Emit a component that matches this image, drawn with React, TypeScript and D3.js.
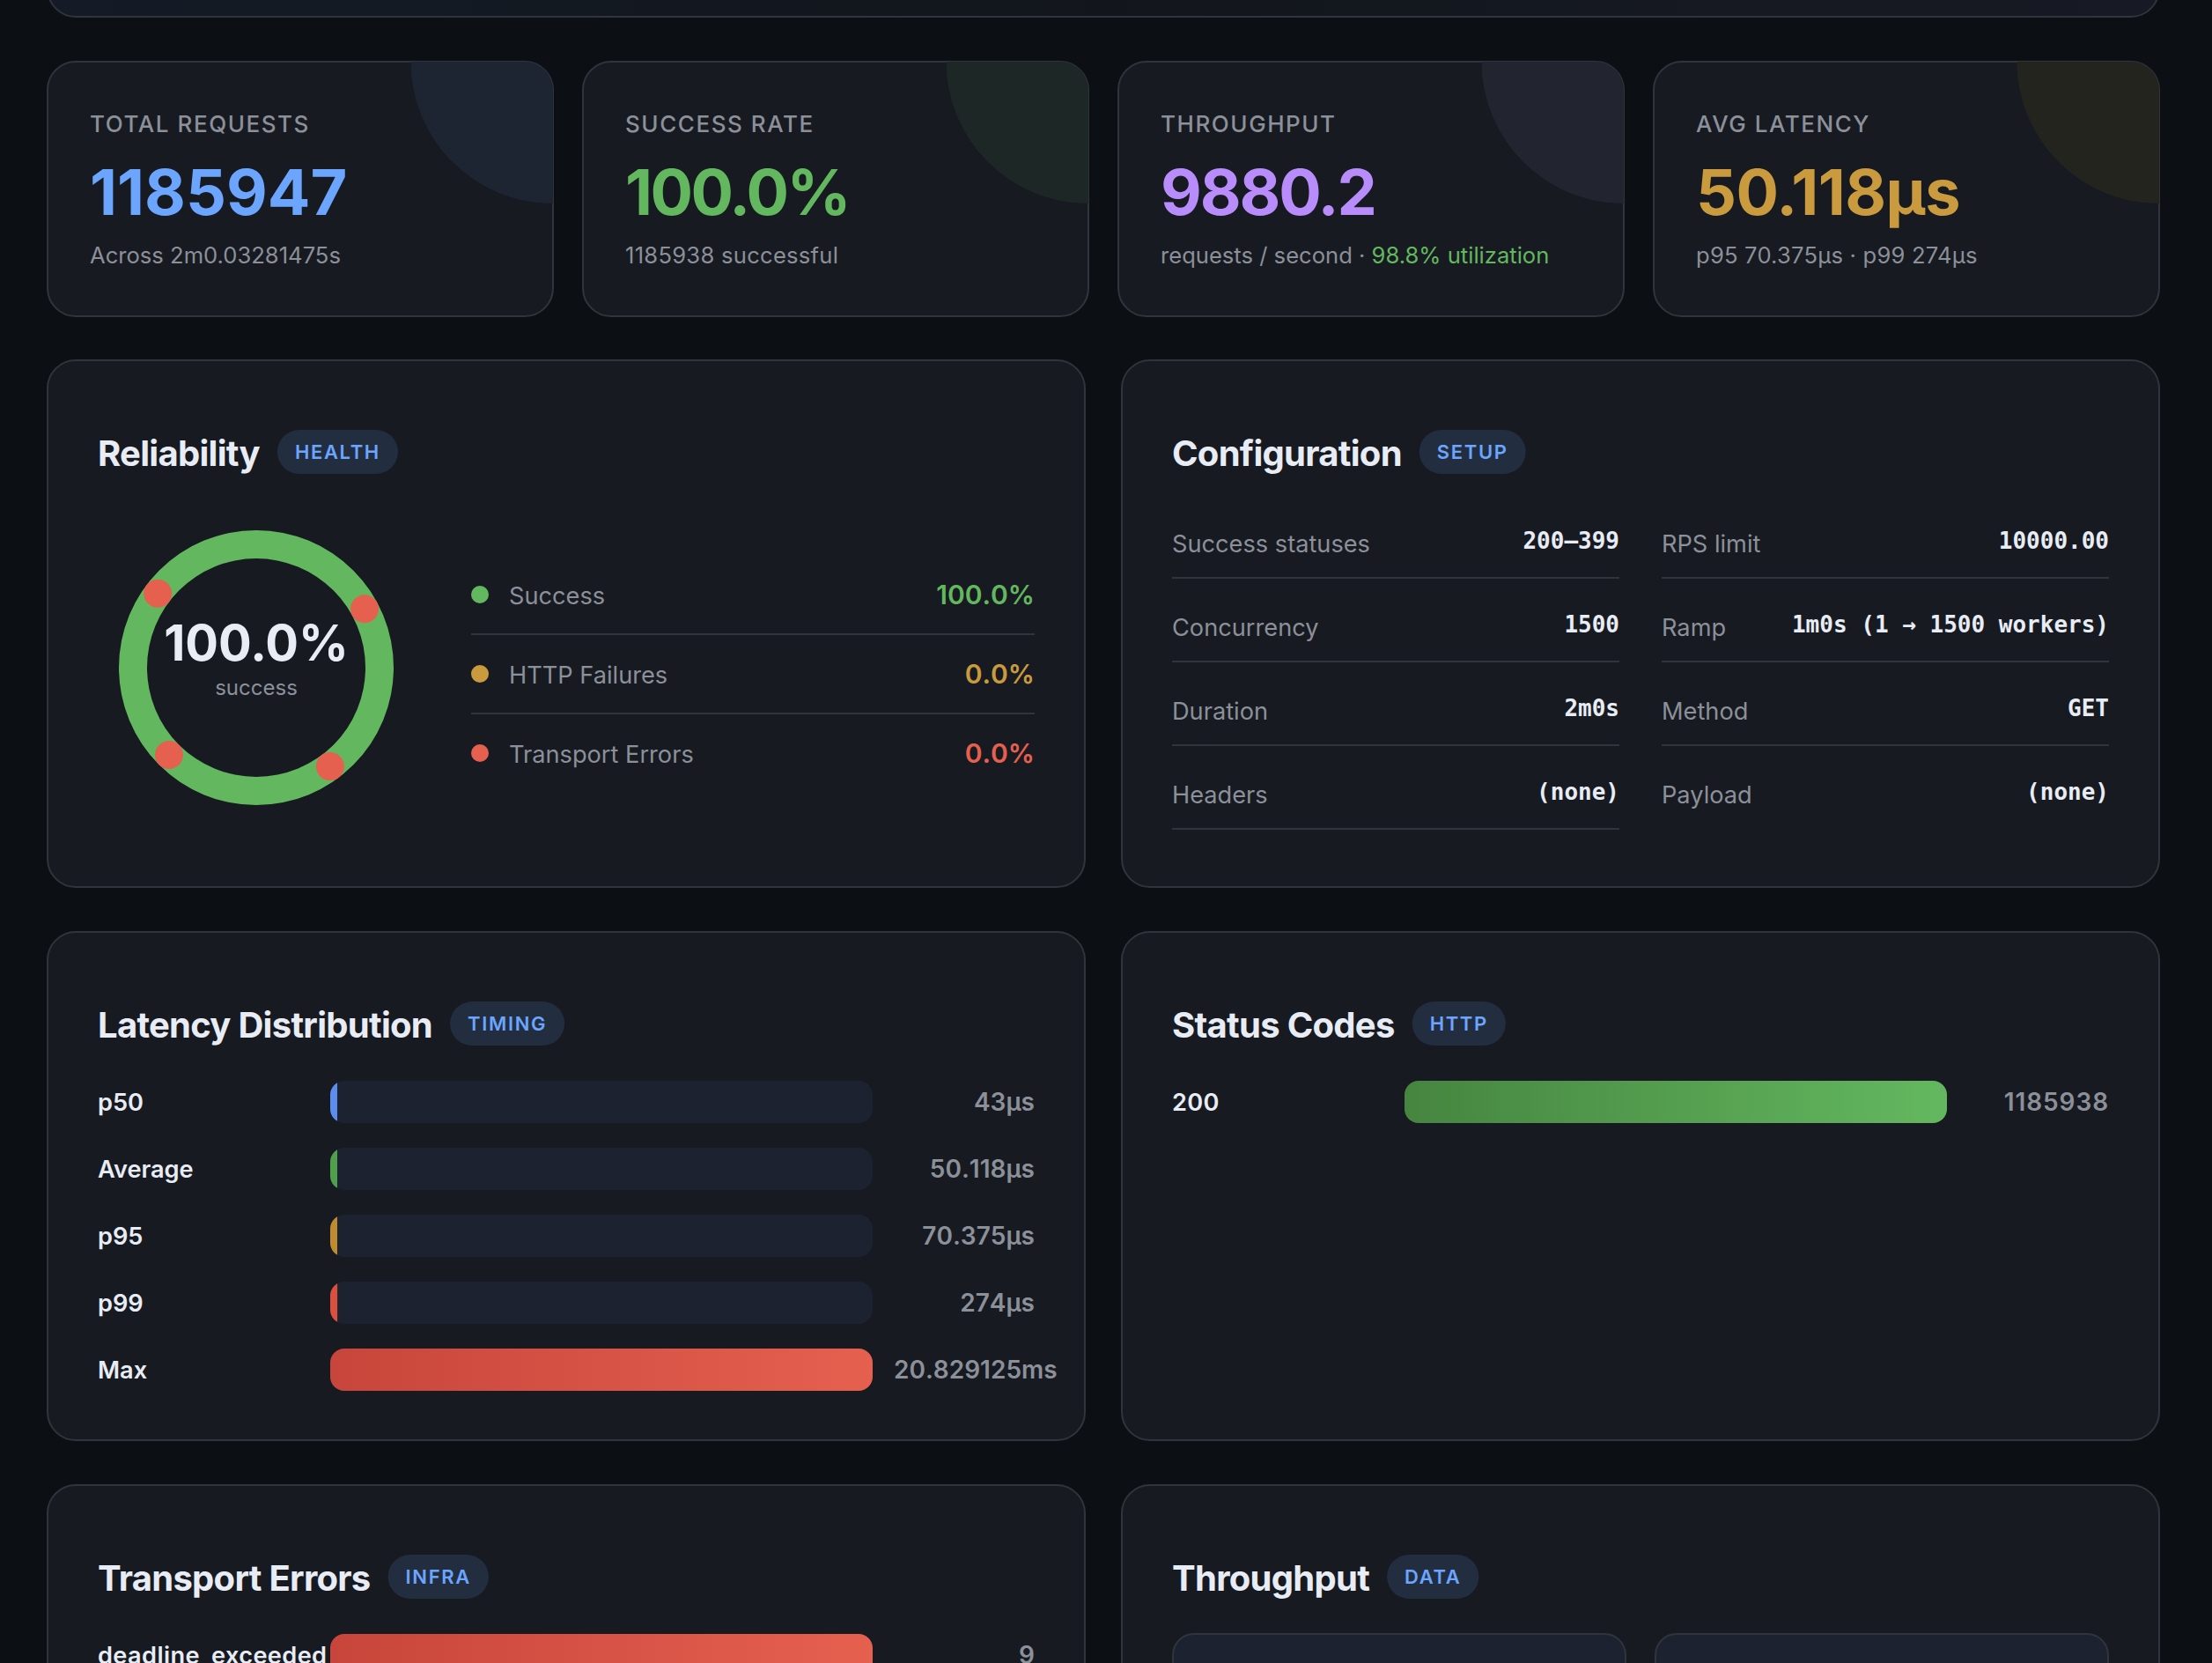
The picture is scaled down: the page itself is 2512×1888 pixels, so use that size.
import { useEffect, useRef } from "react";
import * as d3 from "d3";

const statLabels = ["TOTAL REQUESTS", "SUCCESS RATE", "THROUGHPUT", "AVG LATENCY"];
const statValues = ["1185947", "100.0%", "9880.2", "50.118µs"];
const statSubs = ["Across 2m0.03281475s", "1185938 successful", "requests / second · ", "p95 70.375µs · p99 274µs"];
const statColors = ["#6ba5fd", "#63b85f", "#b88cfb", "#c99a3e"];
const statTints = ["#1e2532", "#1c2726", "#22242f", "#24241f"];
// digit widths differ a little from the installed Inter, so tracking is set per card
const statValueTracking = [0, -0.036, -0.029, -0.008];
const statSubTracking = [0, 0.01, 0, 0.008];

const reliabilityLabels = ["Success", "HTTP Failures", "Transport Errors"];
const reliabilityValues = [100, 0, 0];
const reliabilityColors = ["#63b85f", "#c99a3e", "#e5604f"];
// the zero-width slices show up as round dots on the ring
const markerAngles = [61.5, 143.2, 225, 307];

const configLeftLabels = ["Success statuses", "Concurrency", "Duration", "Headers"];
const configLeftValues = ["200–399", "1500", "2m0s", "(none)"];
const configRightLabels = ["RPS limit", "Ramp", "Method", "Payload"];
const configRightValues = ["10000.00", "1m0s (1 → 1500 workers)", "GET", "(none)"];

const latencyLabels = ["p50", "Average", "p95", "p99", "Max"];
const latencyMicros = [43, 50.118, 70.375, 274, 20829.125];
const latencyTexts = ["43µs", "50.118µs", "70.375µs", "274µs", "20.829125ms"];
const latencyColors = ["#5b8def", "#4fa04b", "#c08a2e", "#d9503f", "url(#redBar)"];

const statusCodes = ["200"];
const statusCounts = [1185938];

const errorNames = ["deadline_exceeded"];
const errorCounts = [9];

const W = 2512;
const H = 1888;
const SANS = "Inter, 'Noto Sans', sans-serif";
const MONO = "'DejaVu Sans Mono', monospace";
const BG = "#0c0f13";
const CARD = "#171a21";
const LINE = "#30343c";
const MUTED = "#8b9099";
const TEXT = "#e8ecf4";
const BLUE = "#6ba5fd";

type Sel = d3.Selection<any, any, any, any>;

function label(
  g: Sel,
  x: number,
  y: number,
  str: string,
  size: number,
  weight: number,
  fill: string,
  anchor = "start",
  spacing = 0,
  family = SANS
) {
  return g
    .append("text")
    .attr("x", x)
    .attr("y", y)
    .attr("font-family", family)
    .attr("font-size", size)
    .attr("font-weight", weight)
    .attr("fill", fill)
    .attr("text-anchor", anchor)
    .style("letter-spacing", `${spacing}em`)
    .text(str);
}

function box(g: Sel, x: number, y: number, w: number, h: number, r = 32, fill = CARD) {
  return g
    .append("rect")
    .attr("x", x + 1)
    .attr("y", y + 1)
    .attr("width", w - 2)
    .attr("height", h - 2)
    .attr("rx", r)
    .attr("fill", fill)
    .attr("stroke", LINE)
    .attr("stroke-width", 2);
}

function panel(g: Sel, x: number, y: number, w: number, h: number, title: string, tag: string) {
  box(g, x, y, w, h);
  const t = label(g, x + 58, y + 120.5, title, 40, 700, TEXT, "start", -0.018);
  const tx = x + 58 + (t.node() as SVGTextElement).getComputedTextLength() + 20;
  const pill = g.append("rect").attr("x", tx).attr("y", y + 80).attr("height", 50).attr("rx", 25).attr("fill", "#222e40");
  const b = label(g, tx + 20, y + 113, tag, 22, 600, BLUE, "start", 0.075);
  pill.attr("width", (b.node() as SVGTextElement).getComputedTextLength() + 40);
}

function barRow(
  g: Sel,
  id: string,
  y: number,
  left: number,
  right: number,
  name: string,
  value: number,
  x: d3.ScaleLinear<number, number>,
  fill: string,
  text: string,
  nameTracking = 0,
  valueTracking = 0
) {
  const track = x.range()[1];
  const barX = left + 264;
  g.append("clipPath")
    .attr("id", id)
    .append("rect")
    .attr("x", barX)
    .attr("y", y)
    .attr("width", track)
    .attr("height", 48)
    .attr("rx", 16);
  g.append("rect").attr("x", barX).attr("y", y).attr("width", track).attr("height", 48).attr("rx", 16).attr("fill", "#1c2230");
  g.append("rect")
    .attr("clip-path", `url(#${id})`)
    .attr("x", barX)
    .attr("y", y)
    .attr("width", Math.max(x(value), 8))
    .attr("height", 48)
    .attr("fill", fill);
  label(g, left, y + 34, name, 27.2, 600, TEXT, "start", nameTracking);
  const v = label(g, right, y + 34, text, 28, 600, MUTED, "start", valueTracking).style("font-kerning", "none");
  // right aligned in its column, long values run over to the right
  const w = (v.node() as SVGTextElement).getComputedTextLength();
  v.attr("x", Math.max(right - 160, right - w));
}

export default function App() {
  const svgRef = useRef<SVGSVGElement>(null);

  useEffect(() => {
    document.body.style.margin = "0";
    document.body.style.background = BG;
    const svg = d3.select(svgRef.current);
    svg.selectAll("*").remove();

    const defs = svg.append("defs");
    const gradient = (id: string, stops: string[]) => {
      const g = defs.append("linearGradient").attr("id", id);
      stops.forEach((c, i) => g.append("stop").attr("offset", i / (stops.length - 1)).attr("stop-color", c));
    };
    gradient("redBar", ["#c8453b", "#e5604f"]);
    gradient("greenBar", ["#468540", "#63b85f"]);
    gradient("hero", ["#141b26", "#12161c", "#171a24"]);

    svg.append("rect").attr("width", W).attr("height", H).attr("fill", BG);

    // hero panel, only its bottom edge is in view
    box(svg, 53, -200, 2400, 220, 32, "url(#hero)");

    // stat cards
    const cardX = d3.scalePoint<number>().domain(d3.range(4)).range([53, 1877]);
    statLabels.forEach((name, i) => {
      const x = cardX(i) as number;
      const g = svg.append("g");
      defs.append("clipPath")
        .attr("id", `card${i}`)
        .append("rect")
        .attr("x", x + 1)
        .attr("y", 70)
        .attr("width", 574)
        .attr("height", 290)
        .attr("rx", 32);
      box(g, x, 69, 576, 291);
      g.append("circle")
        .attr("clip-path", `url(#card${i})`)
        .attr("cx", x + 574.5)
        .attr("cy", 70)
        .attr("r", 161)
        .attr("fill", statTints[i]);
      label(g, x + 49, 150, name, 26, 500, MUTED, "start", 0.06);
      label(g, x + 49, 244, statValues[i], 72, 700, statColors[i], "start", statValueTracking[i]);
      const sub = label(g, x + 49, 299, statSubs[i], 25.6, 400, MUTED, "start", statSubTracking[i]);
      if (i === 2) sub.append("tspan").attr("fill", "#63b85f").text("98.8% utilization");
    });

    // reliability
    const rel = svg.append("g");
    panel(rel, 53, 408, 1180, 600, "Reliability", "HEALTH");
    const ring = rel.append("g").attr("transform", "translate(291,758)");
    const pie = d3.pie<number>().sort(null)(reliabilityValues);
    const arc = d3.arc<d3.PieArcDatum<number>>().innerRadius(124).outerRadius(156);
    ring.selectAll("path")
      .data(pie.filter((d) => d.value > 0))
      .join("path")
      .attr("d", arc)
      .attr("fill", (d) => reliabilityColors[d.index]);
    ring.selectAll("circle")
      .data(markerAngles)
      .join("circle")
      .attr("cx", (d) => d3.pointRadial((d * Math.PI) / 180, 140)[0])
      .attr("cy", (d) => d3.pointRadial((d * Math.PI) / 180, 140)[1])
      .attr("r", 16)
      .attr("fill", "#e5604f");
    label(rel, 291, 750, "100.0%", 56, 700, TEXT, "middle");
    label(rel, 291, 789, "success", 24, 400, MUTED, "middle");

    const legendY = d3.scalePoint<number>().domain(d3.range(3)).range([675, 855]);
    reliabilityLabels.forEach((name, i) => {
      const y = legendY(i) as number;
      rel.append("circle").attr("cx", 545).attr("cy", y).attr("r", 10).attr("fill", reliabilityColors[i]);
      label(rel, 578, y + 11, name, 27.2, 400, MUTED);
      label(rel, 1175, y + 11, `${reliabilityValues[i].toFixed(1)}%`, 30, 600, reliabilityColors[i], "end").style("font-kerning", "none");
      if (i < 2) rel.append("rect").attr("x", 535).attr("y", y + 44).attr("width", 640).attr("height", 2).attr("fill", LINE);
    });

    // configuration
    const cfg = svg.append("g");
    panel(cfg, 1273, 408, 1180, 600, "Configuration", "SETUP");
    const rowY = d3.scalePoint<number>().domain(d3.range(4)).range([655, 940]);
    const column = (x: number, names: string[], values: string[], lastLine: boolean) => {
      names.forEach((name, i) => {
        const y = rowY(i) as number;
        label(cfg, x, y - 28, name, 27.2, 400, MUTED);
        label(cfg, x + 508, y - 32, values[i], 26, 700, TEXT, "end", 0, MONO);
        if (i < 3 || lastLine) cfg.append("rect").attr("x", x).attr("y", y).attr("width", 508).attr("height", 2).attr("fill", LINE);
      });
    };
    column(1331, configLeftLabels, configLeftValues, true);
    column(1887, configRightLabels, configRightValues, false);

    // latency
    const lat = svg.append("g");
    panel(lat, 53, 1057, 1180, 579, "Latency Distribution", "TIMING");
    const latencyX = d3.scaleLinear().domain([0, d3.max(latencyMicros) as number]).range([0, 616]);
    const latencyY = d3.scalePoint<number>().domain(d3.range(5)).range([1227, 1531]);
    latencyLabels.forEach((name, i) => {
      barRow(lat, `lat${i}`, latencyY(i) as number, 111, 1175, name, latencyMicros[i], latencyX, latencyColors[i], latencyTexts[i]);
    });

    // status codes
    const st = svg.append("g");
    panel(st, 1273, 1057, 1180, 579, "Status Codes", "HTTP");
    const statusX = d3.scaleLinear().domain([0, d3.max(statusCounts) as number]).range([0, 616]);
    statusCodes.forEach((code, i) => {
      barRow(st, `st${i}`, 1227 + i * 76, 1331, 2395, code, statusCounts[i], statusX, "url(#greenBar)", String(statusCounts[i]), 0.01, 0.033);
    });

    // transport errors, cut by the bottom of the page
    const err = svg.append("g");
    panel(err, 53, 1685, 1180, 600, "Transport Errors", "INFRA");
    const errorX = d3.scaleLinear().domain([0, d3.max(errorCounts) as number]).range([0, 616]);
    errorNames.forEach((name, i) => {
      barRow(err, `err${i}`, 1855 + i * 76, 111, 1175, name, errorCounts[i], errorX, "url(#redBar)", String(errorCounts[i]), 0.014);
    });

    // throughput
    const thr = svg.append("g");
    panel(thr, 1273, 1685, 1180, 600, "Throughput", "DATA");
    box(thr, 1331, 1854, 516, 200, 24, "#1c2230");
    box(thr, 1879, 1854, 516, 200, 24, "#1c2230");
  }, []);

  return <svg ref={svgRef} width={W} height={H} style={{ display: "block" }} />;
}
